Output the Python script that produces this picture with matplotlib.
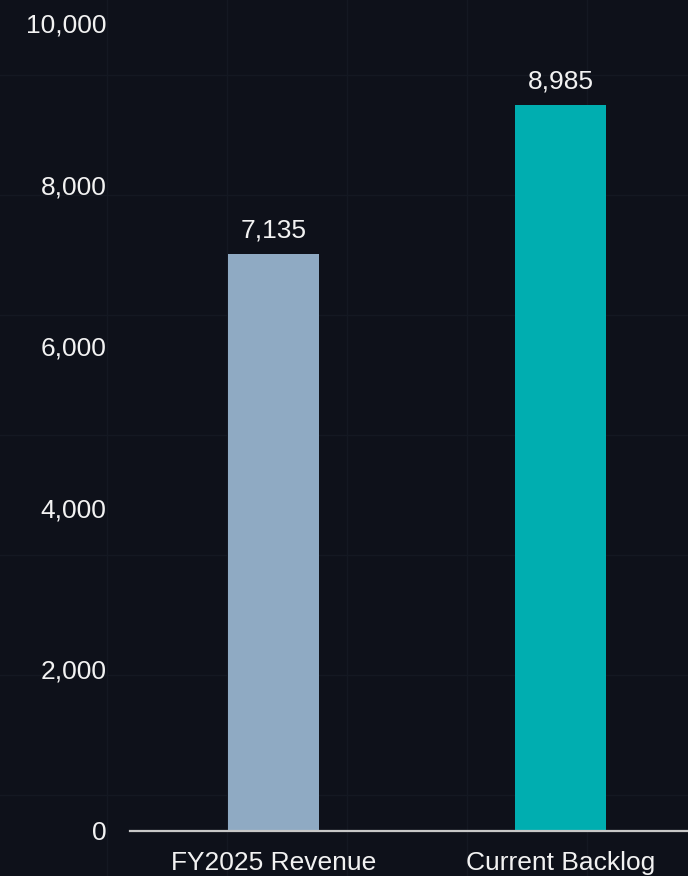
import matplotlib
matplotlib.use("Agg")
import matplotlib.pyplot as plt
from matplotlib.lines import Line2D

categories = ["FY2025 Revenue", "Current Backlog"]
values = [7135, 8985]
bar_colors = ["#8faac3", "#00aeb0"]
yticks = [0, 2000, 4000, 6000, 8000, 10000]

BG = "#0e111a"
W, H = 688, 876
plt.rcParams['font.family'] = ['Liberation Sans', 'DejaVu Sans']

fig = plt.figure(figsize=(W / 100, H / 100), dpi=100, facecolor=BG)

# faint background grid texture (figure decoration)
grid_col = "#141822"
for x in range(107, W, 120):
    fig.add_artist(Line2D([x / W, x / W], [0, 1], transform=fig.transFigure,
                          color=grid_col, lw=1.0, zorder=0))
for y in range(75, H, 120):
    fig.add_artist(Line2D([0, 1], [1 - y / H, 1 - y / H], transform=fig.transFigure,
                          color=grid_col, lw=1.0, zorder=0))

ax = fig.add_axes([130 / W, (H - 831) / H, (704 - 130) / W, (831 - 23) / H])
ax.patch.set_alpha(0)

x = list(range(len(categories)))
bars = ax.bar(x, values, width=0.317, color=bar_colors, zorder=2)
ax.set_xlim(-0.5, 1.5)
ax.set_ylim(0, 10000)
ax.set_yticks(yticks)
ax.set_yticklabels([f"{v:,}" for v in yticks])
ax.set_xticks(x)
ax.set_xticklabels(categories)

for b, v in zip(bars, values):
    ax.annotate(f"{v:,}", (b.get_x() + b.get_width() / 2, v), xytext=(0, 8.5),
                textcoords="offset points", ha="center", va="bottom",
                color="#f2f2f2", fontsize=19)

for s in ["top", "right", "left"]:
    ax.spines[s].set_visible(False)
ax.spines["bottom"].set_color("#c8c8c8")
ax.spines["bottom"].set_linewidth(1.6)
ax.tick_params(axis="y", length=0, pad=17, labelsize=19, labelcolor="#f2f2f2")
ax.tick_params(axis="x", length=0, pad=14.5, labelsize=19, labelcolor="#f2f2f2")

fig.savefig("out.png", dpi=100, facecolor=BG)
